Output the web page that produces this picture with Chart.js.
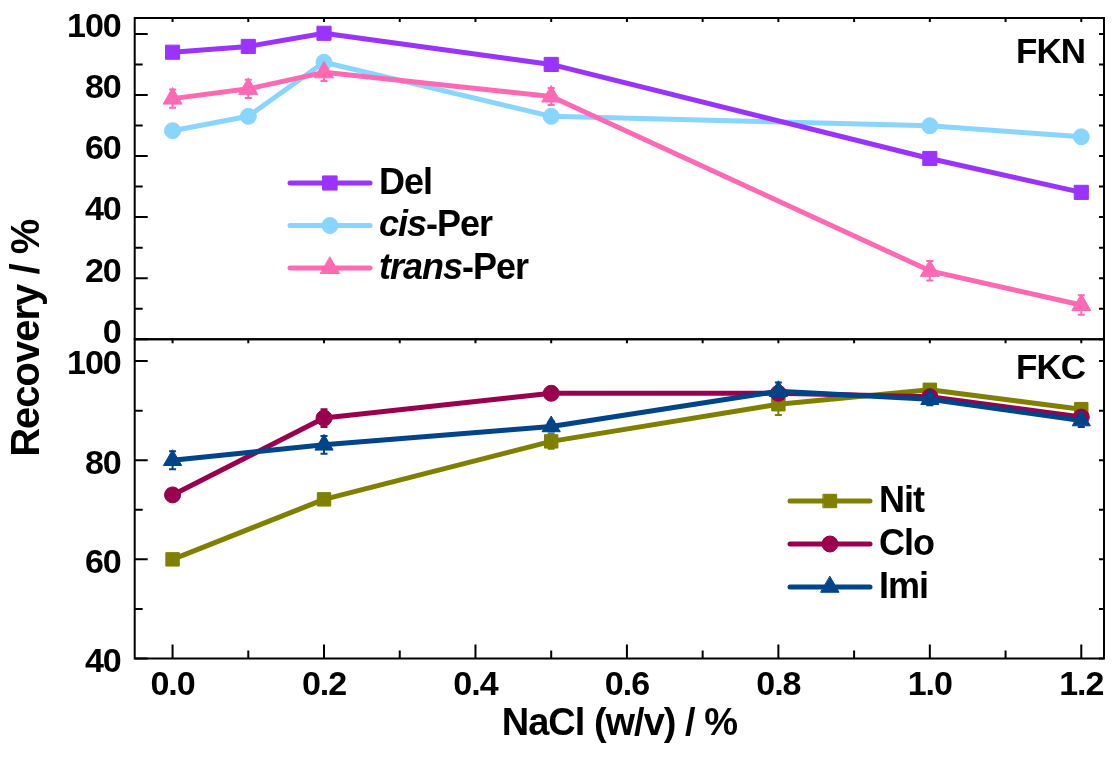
<!DOCTYPE html>
<html>
<head>
<meta charset="utf-8">
<script src="https://cdn.jsdelivr.net/npm/chart.js@4.4.0/dist/chart.umd.min.js"></script>
<style>
  html, body { margin: 0; padding: 0; background: #fff; }
</style>
</head>
<body>
<canvas id="chart" width="1116" height="758"></canvas>
<script>
// NaCl concentration (w/v %) for each panel
const naclFKN = [0.0, 0.1, 0.2, 0.5, 1.0, 1.2];
const naclFKC = [0.0, 0.2, 0.5, 0.8, 1.0, 1.2];

// FKN panel - recovery %
const del      = [94.0, 95.9, 100.2, 90.0, 59.2, 48.1];
const cisPer   = [68.3, 73.0, 90.7, 73.0, 69.9, 66.3];
const transPer = [78.8, 82.0, 87.4, 79.5, 22.4, 11.2];
const delErr      = [0.5, 0.5, 0.5, 0.5, 0.5, 0.5];
const cisPerErr   = [0.5, 0.5, 0.5, 0.5, 0.5, 0.5];
const transPerErr = [3.0, 3.0, 2.8, 2.8, 3.2, 3.2];

// FKC panel - recovery %
const nit = [60.0, 72.1, 83.8, 91.3, 94.2, 90.3];
const clo = [73.0, 88.5, 93.5, 93.5, 92.8, 88.7];
const imi = [80.0, 83.1, 86.8, 93.9, 92.3, 88.0];
const nitErr = [0.8, 1.0, 1.5, 2.2, 1.0, 1.2];
const cloErr = [0.8, 1.8, 0.8, 1.0, 1.5, 1.2];
const imiErr = [1.8, 1.8, 1.0, 1.8, 1.2, 1.3];

const panelNames = ['FKN', 'FKC'];

const FONT = '"Liberation Sans", Arial, sans-serif';

function series(label, xs, ys, errs, color, style, radius, axis, order) {
  return {
    label: label,
    data: xs.map((x, i) => ({ x: x, y: ys[i] })),
    errors: errs,
    yAxisID: axis,
    order: order,
    borderColor: color,
    backgroundColor: color,
    borderWidth: 5,
    borderJoinStyle: 'round',
    tension: 0,
    pointStyle: style,
    pointRadius: radius,
    pointHoverRadius: radius,
    pointBorderWidth: 1,
    pointBackgroundColor: color,
    pointBorderColor: color
  };
}

// tighter letters, like the condensed bold of the original
const tightText = {
  id: 'tightText',
  beforeUpdate(chart) { chart.ctx.letterSpacing = '-1px'; },
  beforeDraw(chart) { chart.ctx.letterSpacing = '-1px'; }
};

// error bars under the lines
const errorBars = {
  id: 'errorBars',
  beforeDatasetsDraw(chart) {
    const ctx = chart.ctx;
    const x = chart.scales.x;
    ctx.save();
    ctx.lineWidth = 2;
    chart.data.datasets.forEach(ds => {
      const y = chart.scales[ds.yAxisID];
      ctx.strokeStyle = ds.borderColor;
      ds.data.forEach((p, i) => {
        const e = ds.errors[i];
        const px = x.getPixelForValue(p.x);
        const y1 = y.getPixelForValue(p.y - e);
        const y2 = y.getPixelForValue(p.y + e);
        ctx.beginPath();
        ctx.moveTo(px, y1); ctx.lineTo(px, y2);
        ctx.moveTo(px - 3.5, y1); ctx.lineTo(px + 3.5, y1);
        ctx.moveTo(px - 3.5, y2); ctx.lineTo(px + 3.5, y2);
        ctx.stroke();
      });
    });
    ctx.restore();
  }
};

// panel frames with inward ticks
const frame = {
  id: 'frame',
  afterDatasetsDraw(chart) {
    const ctx = chart.ctx;
    const { x, yTop, yBot } = chart.scales;
    const L = x.left, R = x.right;
    ctx.save();
    ctx.strokeStyle = '#000';
    ctx.lineWidth = 2;
    ctx.strokeRect(L, yTop.top, R - L, yTop.bottom - yTop.top);
    ctx.strokeRect(L, yBot.top, R - L, yBot.bottom - yBot.top);
    ctx.beginPath();
    [yTop, yBot].forEach(s => {
      const vals = s.ticks.map(t => t.value);
      const half = (vals[1] - vals[0]) / 2;
      let k = 0;
      for (let v = vals[0]; v <= s.max + 1e-9; v += half, k++) {
        const py = s.getPixelForValue(v);
        const len = k % 2 === 0 ? 13 : 8;
        ctx.moveTo(L, py); ctx.lineTo(L + len, py);
        ctx.moveTo(R, py); ctx.lineTo(R - 5, py);
      }
    });
    const xv = x.ticks.map(t => t.value);
    const xh = (xv[1] - xv[0]) / 2;
    let k = 0;
    for (let v = xv[0]; v <= x.max + 1e-9; v += xh, k++) {
      const px = x.getPixelForValue(v);
      ctx.moveTo(px, yBot.bottom); ctx.lineTo(px, yBot.bottom - (k % 2 === 0 ? 14 : 8));
      ctx.moveTo(px, yTop.top); ctx.lineTo(px, yTop.top + 4);
      ctx.moveTo(px, yTop.bottom); ctx.lineTo(px, yTop.bottom + 4);
    }
    ctx.stroke();
    ctx.restore();
  }
};

// legends and panel names
const legendSpots = {
  yTop: { x: 290, y: 183, gap: 42.5 },
  yBot: { x: 790, y: 501, gap: 43 }
};

function drawLabel(ctx, text, x, y) {
  const m = text.match(/^(cis|trans)(-.*)$/);
  if (m) {
    ctx.font = 'italic bold 36px ' + FONT;
    ctx.fillText(m[1], x, y);
    x += ctx.measureText(m[1]).width;
    ctx.font = 'bold 36px ' + FONT;
    ctx.fillText(m[2], x, y);
  } else {
    ctx.font = 'bold 36px ' + FONT;
    ctx.fillText(text, x, y);
  }
}

const panelLegend = {
  id: 'panelLegend',
  afterDraw(chart) {
    const ctx = chart.ctx;
    const { x, yTop, yBot } = chart.scales;
    ctx.save();
    const counts = {};
    chart.data.datasets.forEach(ds => {
      const spot = legendSpots[ds.yAxisID];
      const n = counts[ds.yAxisID] || 0;
      counts[ds.yAxisID] = n + 1;
      const cy = spot.y + n * spot.gap;
      ctx.strokeStyle = ds.borderColor;
      ctx.fillStyle = ds.backgroundColor;
      ctx.lineWidth = 5;
      ctx.lineCap = 'round';
      ctx.beginPath();
      ctx.moveTo(spot.x, cy); ctx.lineTo(spot.x + 80, cy);
      ctx.stroke();
      ctx.lineWidth = 1;
      Chart.helpers.drawPoint(ctx, { pointStyle: ds.pointStyle, radius: ds.pointRadius, borderWidth: 1, rotation: 0 }, spot.x + 40, cy);
      ctx.fillStyle = '#000';
      ctx.textBaseline = 'middle';
      ctx.textAlign = 'left';
      drawLabel(ctx, ds.label, spot.x + 89, cy + 1);
    });
    ctx.font = 'bold 35px ' + FONT;
    ctx.fillStyle = '#000';
    ctx.textAlign = 'right';
    ctx.textBaseline = 'alphabetic';
    ctx.fillText(panelNames[0], x.right - 19, yTop.top + 45);
    ctx.fillText(panelNames[1], x.right - 19, yBot.top + 40);
    ctx.restore();
  }
};

const tickFont = { family: FONT, size: 34, weight: 'bold' };

function fixY(s) {
  s.width = 82.7;
  s.paddingTop = 0;
  s.paddingBottom = 0;
}

new Chart(document.getElementById('chart'), {
  type: 'line',
  data: {
    datasets: [
      series('Del', naclFKN, del, delErr, '#9B33FF', 'rect', 10, 'yTop', 0),
      series('cis-Per', naclFKN, cisPer, cisPerErr, '#88D5FF', 'circle', 8, 'yTop', 2),
      series('trans-Per', naclFKN, transPer, transPerErr, '#FF69B4', 'triangle', 11, 'yTop', 1),
      series('Nit', naclFKC, nit, nitErr, '#808000', 'rect', 9.5, 'yBot', 2),
      series('Clo', naclFKC, clo, cloErr, '#9A004E', 'circle', 8, 'yBot', 1),
      series('Imi', naclFKC, imi, imiErr, '#00448A', 'triangle', 10.5, 'yBot', 0)
    ]
  },
  options: {
    responsive: false,
    animation: false,
    layout: { padding: { top: 18, right: 12, left: 0, bottom: 0 } },
    plugins: {
      legend: { display: false },
      tooltip: { enabled: false },
      title: {
        display: true,
        text: 'Recovery / %',
        position: 'left',
        fullSize: false,
        color: '#000',
        font: { family: FONT, size: 40, weight: 'bold', lineHeight: 1.2 },
        padding: { top: 4, bottom: 0 }
      }
    },
    scales: {
      x: {
        type: 'linear',
        min: -0.05,
        max: 1.23,
        grid: { display: false, drawTicks: false },
        border: { display: false },
        ticks: {
          stepSize: 0.2, includeBounds: false, autoSkip: false, maxRotation: 0,
          padding: 7, color: '#000', font: tickFont,
          callback: v => v.toFixed(1)
        },
        title: {
          display: true, text: 'NaCl (w/v) / %', color: '#000',
          font: { family: FONT, size: 38, weight: 'bold' },
          padding: { top: 0, bottom: 11 }
        },
        afterFit: s => { s.height = 99.5; s.paddingLeft = 0; s.paddingRight = 0; }
      },
      yTop: {
        type: 'linear', position: 'left', stack: 'panels', stackWeight: 321, weight: 2,
        min: 0, max: 105.2,
        grid: { display: false, drawTicks: false },
        border: { display: false },
        ticks: { stepSize: 20, includeBounds: false, autoSkip: false, padding: 14, labelOffset: -6, color: '#000', font: tickFont },
        afterFit: fixY
      },
      yBot: {
        type: 'linear', position: 'left', stack: 'panels', stackWeight: 319, weight: 1,
        min: 40, max: 104.4,
        grid: { display: false, drawTicks: false },
        border: { display: false },
        ticks: { stepSize: 20, includeBounds: false, autoSkip: false, padding: 14, labelOffset: 4, color: '#000', font: tickFont },
        afterFit: fixY
      }
    }
  },
  plugins: [tightText, errorBars, frame, panelLegend]
});
</script>
</body>
</html>
